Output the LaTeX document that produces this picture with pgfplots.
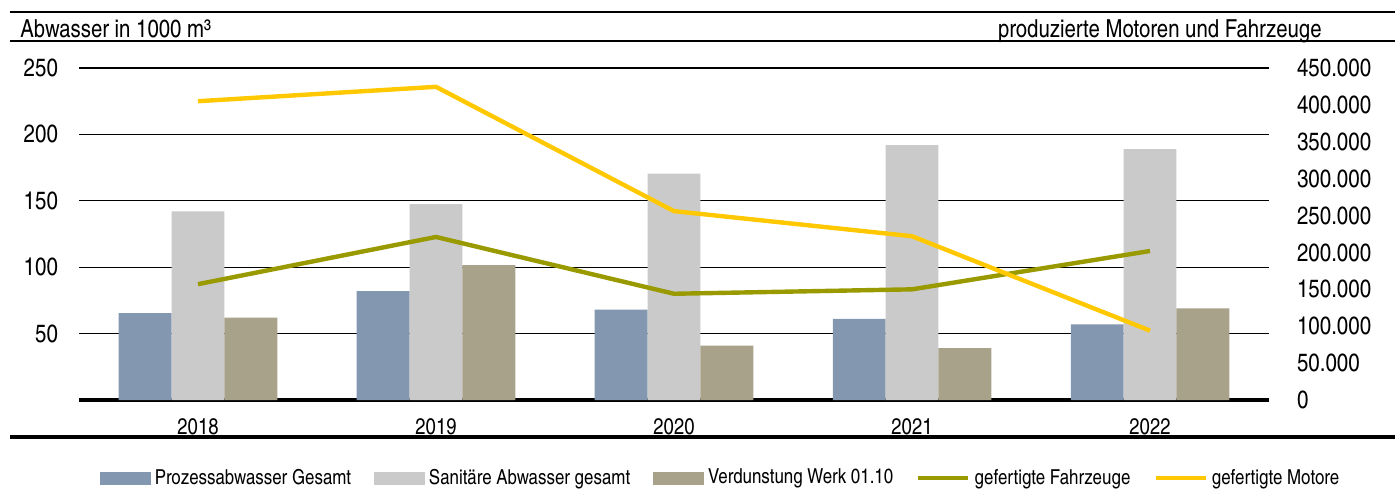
\documentclass[border=0pt]{standalone}
\usepackage{pgfplots}
\pgfplotsset{compat=1.18}
\usepackage{fontspec}
\setmainfont{TeX Gyre Heros Cn}
\definecolor{cProz}{HTML}{8497B0}
\definecolor{cSan}{HTML}{CACACA}
\definecolor{cVer}{HTML}{A8A28A}
\definecolor{cFahr}{HTML}{999900}
\definecolor{cMot}{HTML}{FFC800}
\begin{document}
\begin{tikzpicture}
\path[use as bounding box] (0,0) rectangle (697.5pt,244pt);
\draw[line width=1.2pt] (5pt,238pt) -- (697.5pt,238pt);
\draw[line width=1.2pt] (5pt,223.5pt) -- (697.5pt,223.5pt);
\draw[line width=2pt] (5pt,25.5pt) -- (697.5pt,25.5pt);
\node[anchor=base west,inner sep=0pt,font=\fontsize{12.4}{14}\selectfont] at (10pt,225pt) {Abwasser in 1000 m³};
\node[anchor=base east,inner sep=0pt,font=\fontsize{12.4}{14}\selectfont] at (661pt,225pt) {produzierte Motoren und Fahrzeuge};
\begin{axis}[
  at={(39.5pt,44pt)}, anchor=south west,
  scale only axis, width=595pt, height=166pt,
  xmin=-0.5, xmax=4.5, ymin=0, ymax=250,
  axis line style={draw=none},
  xtick={0,1,2,3,4}, xticklabels={2018,2019,2020,2021,2022},
  ytick={50,100,150,200,250},
  major tick length=0pt,
  ymajorgrids, grid style={black, line width=0.6pt},
  extra y ticks={0}, extra y tick labels={},
  extra y tick style={grid style={black, line width=2pt}},
  xticklabel style={font=\fontsize{11.3}{13}\selectfont, yshift=-6pt},
  yticklabel style={font=\fontsize{12.5}{14}\selectfont, xshift=-7pt},
  /pgf/number format/assume math mode=true,
  ybar, bar width=0.222,
]
\addplot[fill=cProz, draw=none, bar shift=-0.222] coordinates {(0,65.5) (1,82) (2,68) (3,61) (4,57)};
\addplot[fill=cSan, draw=none, bar shift=0] coordinates {(0,142) (1,147.5) (2,170.5) (3,192) (4,189)};
\addplot[fill=cVer, draw=none, bar shift=0.222] coordinates {(0,62) (1,101.5) (2,41) (3,39) (4,69)};
\end{axis}
\begin{axis}[
  at={(39.5pt,44pt)}, anchor=south west,
  scale only axis, width=595pt, height=166pt,
  xmin=-0.5, xmax=4.5, ymin=0, ymax=450000,
  axis line style={draw=none},
  axis y line*=right, axis x line=none,
  ytick={0,50000,100000,150000,200000,250000,300000,350000,400000,450000},
  scaled y ticks=false,
  major tick length=0pt,
  yticklabel style={font=\fontsize{12.5}{14}\selectfont, xshift=10.5pt, anchor=west,
    /pgf/number format/fixed, /pgf/number format/precision=0,
    /pgf/number format/1000 sep={.}, /pgf/number format/assume math mode=true},
  legend columns=5,
  legend style={at={(0.54,-0.235)}, anchor=center, draw=none, font=\fontsize{10.3}{12}\selectfont,
    /tikz/every even column/.append style={column sep=9.5pt}},
  legend cell align=left,
]
\addlegendimage{area legend, legend image code/.code={\fill[cProz] (0pt,-3pt) rectangle (25pt,3pt);}}
\addlegendentry{Prozessabwasser Gesamt}
\addlegendimage{area legend, legend image code/.code={\fill[cSan] (0pt,-3pt) rectangle (25pt,3pt);}}
\addlegendentry{Sanitäre Abwasser gesamt}
\addlegendimage{area legend, legend image code/.code={\fill[cVer] (0pt,-3pt) rectangle (25pt,3pt);}}
\addlegendentry{Verdunstung Werk 01.10}
\addplot[cFahr, line width=2.2pt, mark=none, legend image code/.code={\draw[cFahr, line width=2.2pt] (0pt,0pt) -- (25pt,0pt);}] coordinates {(0,157000) (1,221000) (2,144000) (3,150000) (4,202000)};
\addlegendentry{gefertigte Fahrzeuge}
\addplot[cMot, line width=2.2pt, mark=none, legend image code/.code={\draw[cMot, line width=2.2pt] (0pt,0pt) -- (25pt,0pt);}] coordinates {(0,405000) (1,424500) (2,256000) (3,222000) (4,94000)};
\addlegendentry{gefertigte Motore}
\end{axis}
\end{tikzpicture}
\end{document}
